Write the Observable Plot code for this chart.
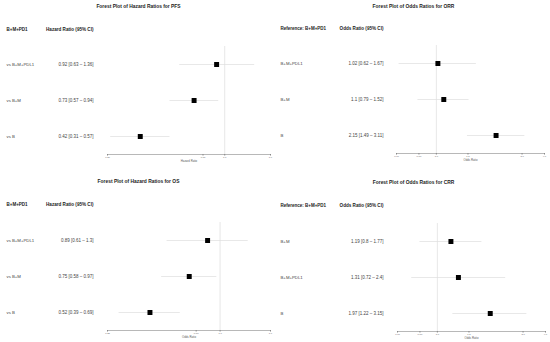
<!DOCTYPE html>
<html>
<head>
<meta charset="utf-8">
<script src="https://cdn.jsdelivr.net/npm/d3@7"></script>
<script src="https://cdn.jsdelivr.net/npm/@observablehq/plot@0.6"></script>
<style>
  html, body { margin: 0; padding: 0; background: white; }
  #grid { display: grid; grid-template-columns: 275px 275px; grid-template-rows: 171px 171px; width: 550px; height: 342px; }
  #grid svg { display: block; }
</style>
</head>
<body>
<div id="grid"></div>
<script>
// ---- PFS (hazard ratios) ----
const pfsTitle = "Forest Plot of Hazard Ratios for PFS";
const pfsHeadLeft = "B+M+PD1";
const pfsHeadRight = "Hazard Ratio (95% CI)";
const pfsAxisLabel = "Hazard Ratio";
const pfsLabels = ["vs B+M+PDL1", "vs B+M", "vs B"];
const pfsEst = [0.92, 0.73, 0.42];
const pfsLo = [0.63, 0.57, 0.31];
const pfsHi = [1.36, 0.94, 0.57];
const pfsDomain = [0.3, 1.6];
const pfsTicks = [0.3, 0.8, 1, 1.6];
const pfsTickLabels = ["0.30", "0.80", "1.0", "1.6"];

// ---- ORR (odds ratios) ----
const orrTitle = "Forest Plot of Odds Ratios for ORR";
const orrHeadLeft = "Reference: B+M+PD1";
const orrHeadRight = "Odds Ratio (95% CI)";
const orrAxisLabel = "Odds Ratio";
const orrLabels = ["B+M+PDL1", "B+M", "B"];
const orrEst = [1.02, 1.1, 2.15];
const orrLo = [0.62, 0.79, 1.49];
const orrHi = [1.67, 1.52, 3.11];
const orrDomain = [0.6, 4];
const orrTicks = [0.6, 0.8, 1, 1.5, 3, 4];
const orrTickLabels = ["0.60", "0.80", "1.0", "1.5", "3.0", "4.0"];

// ---- OS (hazard ratios) ----
const osTitle = "Forest Plot of Hazard Ratios for OS";
const osHeadLeft = "B+M+PD1";
const osHeadRight = "Hazard Ratio (95% CI)";
const osAxisLabel = "Odds Ratio";
const osLabels = ["vs B+M+PDL1", "vs B+M", "vs B"];
const osEst = [0.89, 0.75, 0.52];
const osLo = [0.61, 0.58, 0.39];
const osHi = [1.3, 0.97, 0.69];
const osDomain = [0.35, 1.6];
const osTicks = [0.35, 0.8, 1, 1.6];
const osTickLabels = ["0.35", "0.80", "1.0", "1.6"];

// ---- CRR (odds ratios) ----
const crrTitle = "Forest Plot of Odds Ratios for CRR";
const crrHeadLeft = "Reference: B+M+PD1";
const crrHeadRight = "Odds Ratio (95% CI)";
const crrAxisLabel = "Odds Ratio";
const crrLabels = ["B+M", "B+M+PDL1", "B"];
const crrEst = [1.19, 1.31, 1.97];
const crrLo = [0.8, 0.72, 1.22];
const crrHi = [1.77, 2.4, 3.15];
const crrDomain = [0.6, 4];
const crrTicks = [0.6, 0.8, 1, 1.5, 3, 4];
const crrTickLabels = ["0.60", "0.80", "1.0", "1.5", "3.0", "4.0"];

const FONT = "'Liberation Sans', Arial, Helvetica, sans-serif";
const TXT = "#444";

function panel(d, lay) {
  const rows = d.labels.map((l, i) => ({
    label: l, est: d.est[i], lo: d.lo[i], hi: d.hi[i],
    txt: `${d.est[i]} [${d.lo[i]} – ${d.hi[i]}]`
  }));
  const fmt = v => d.tickLabels[d.ticks.indexOf(v)];
  return Plot.plot({
    width: 275, height: 171,
    marginLeft: lay.ml, marginRight: lay.mr, marginTop: lay.mt, marginBottom: lay.mb,
    style: { fontFamily: FONT, background: "white", overflow: "visible", fontSize: "2.4px" },
    x: { type: "log", domain: d.domain },
    y: { type: "point", domain: d.labels, padding: 0.5, axis: null },
    marks: [
      Plot.ruleX([1], { stroke: "#dcdcdc", strokeWidth: 0.7 }),
      Plot.frame({ anchor: "bottom", stroke: "#888", strokeWidth: 0.6 }),
      Plot.axisX({ ticks: d.ticks, tickFormat: fmt, tickSize: 1.5, tickPadding: 0.6, stroke: "#888", fill: "#666", fontSize: 2.4, label: null }),
      Plot.text([d.axisLabel], { text: t => t, frameAnchor: "bottom", textAnchor: "middle", lineAnchor: "middle", dy: lay.axLabDy, fontSize: 2.8, fill: "#555" }),
      Plot.ruleY(rows, { y: "label", x1: "lo", x2: "hi", stroke: "#dedede", strokeWidth: 0.7 }),
      Plot.dot(rows, { x: "est", y: "label", symbol: "square", r: 2.8, fill: "black", stroke: "none" }),
      Plot.text(rows, { y: "label", text: "label", frameAnchor: "left", textAnchor: "start", lineAnchor: "middle", dx: lay.labX - lay.ml, fontSize: 4.3, fill: TXT }),
      Plot.text(rows, { y: "label", text: "txt", frameAnchor: "left", textAnchor: "end", lineAnchor: "middle", dx: lay.valX - lay.ml, fontSize: 4.5, fill: TXT }),
      Plot.text([d.title], { text: t => t, frameAnchor: "top-left", textAnchor: "middle", lineAnchor: "middle", dx: 138 - lay.ml, dy: lay.titleY - lay.mt, fontSize: 4.9, fontWeight: "bold", fill: "#222" }),
      Plot.text([d.headLeft], { text: t => t, frameAnchor: "top-left", textAnchor: "start", lineAnchor: "middle", dx: lay.labX - lay.ml, dy: lay.headY - lay.mt, fontSize: 4.5, fontWeight: "bold", fill: "#222" }),
      Plot.text([d.headRight], { text: t => t, frameAnchor: "top-left", textAnchor: "end", lineAnchor: "middle", dx: lay.valX - lay.ml, dy: lay.headY - lay.mt, fontSize: 4.6, fontWeight: "bold", fill: "#222" })
    ]
  });
}

const grid = document.getElementById("grid");
grid.append(
  panel({ title: pfsTitle, headLeft: pfsHeadLeft, headRight: pfsHeadRight, axisLabel: pfsAxisLabel, labels: pfsLabels, est: pfsEst, lo: pfsLo, hi: pfsHi, domain: pfsDomain, ticks: pfsTicks, tickLabels: pfsTickLabels },
        { ml: 107, mr: 5, mt: 46, mb: 17, titleY: 6, headY: 29, labX: 6, valX: 93, axLabDy: 7 }),
  panel({ title: orrTitle, headLeft: orrHeadLeft, headRight: orrHeadRight, axisLabel: orrAxisLabel, labels: orrLabels, est: orrEst, lo: orrLo, hi: orrHi, domain: orrDomain, ticks: orrTicks, tickLabels: orrTickLabels },
        { ml: 121, mr: 6, mt: 45, mb: 18, titleY: 6, headY: 28, labX: 5, valX: 108, axLabDy: 6.3 }),
  panel({ title: osTitle, headLeft: osHeadLeft, headRight: osHeadRight, axisLabel: osAxisLabel, labels: osLabels, est: osEst, lo: osLo, hi: osHi, domain: osDomain, ticks: osTicks, tickLabels: osTickLabels },
        { ml: 107, mr: 5, mt: 51, mb: 12, titleY: 10, headY: 33, labX: 6, valX: 93, axLabDy: 6.5 }),
  panel({ title: crrTitle, headLeft: crrHeadLeft, headRight: crrHeadRight, axisLabel: crrAxisLabel, labels: crrLabels, est: crrEst, lo: crrLo, hi: crrHi, domain: crrDomain, ticks: crrTicks, tickLabels: crrTickLabels },
        { ml: 122, mr: 5, mt: 52, mb: 11, titleY: 11, headY: 34, labX: 5, valX: 108, axLabDy: 6.5 })
);
</script>
</body>
</html>
